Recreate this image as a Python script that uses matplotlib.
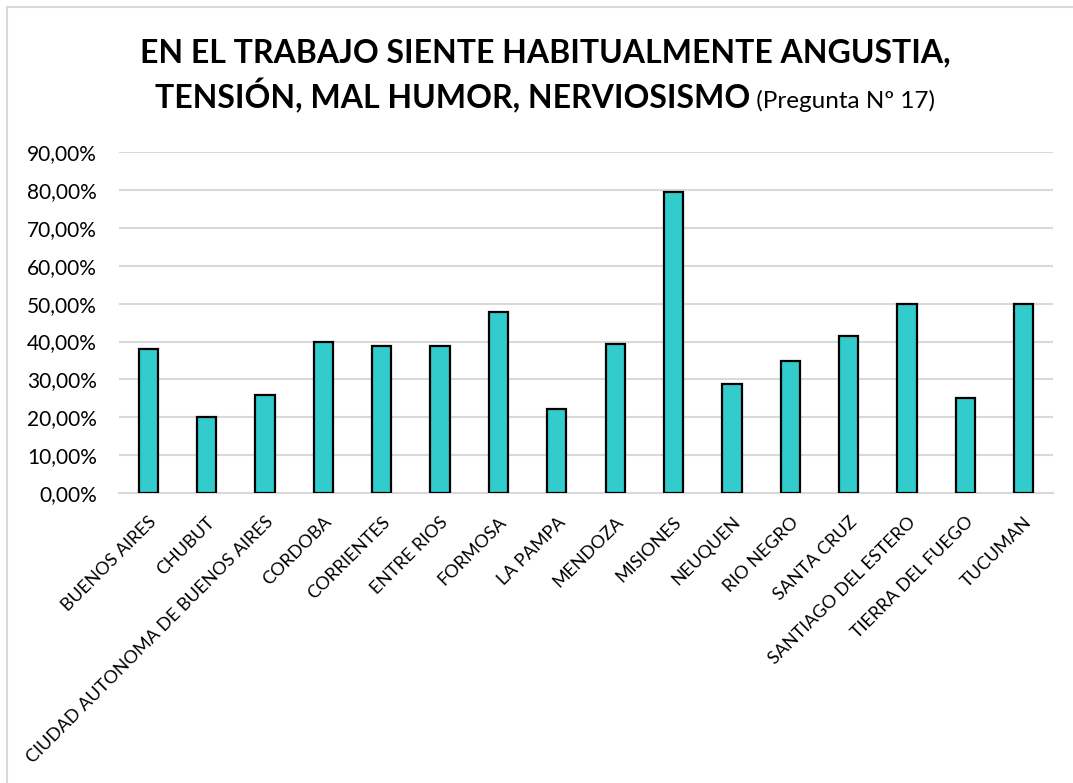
import matplotlib
matplotlib.use("Agg")
import matplotlib.pyplot as plt
from matplotlib.ticker import FuncFormatter, MultipleLocator
from matplotlib.patches import Rectangle

categories = ["BUENOS AIRES", "CHUBUT", "CIUDAD AUTONOMA DE BUENOS AIRES", "CORDOBA",
              "CORRIENTES", "ENTRE RIOS", "FORMOSA", "LA PAMPA", "MENDOZA", "MISIONES",
              "NEUQUEN", "RIO NEGRO", "SANTA CRUZ", "SANTIAGO DEL ESTERO",
              "TIERRA DEL FUEGO", "TUCUMAN"]
values = [0.381, 0.202, 0.259, 0.398, 0.387, 0.389, 0.477, 0.221, 0.393, 0.795,
          0.289, 0.349, 0.415, 0.500, 0.251, 0.500]
title_line1 = "EN EL TRABAJO SIENTE HABITUALMENTE ANGUSTIA,"
title_line2_bold = "TENSIÓN, MAL HUMOR, NERVIOSISMO"
title_line2_reg = " (Pregunta Nº 17)"

FONT = ["Lato", "DejaVu Sans"]
plt.rcParams["font.family"] = FONT

W, H = 1073, 783
fig = plt.figure(figsize=(W / 100, H / 100), dpi=100)
fig.patch.set_facecolor("white")

# outer chart border
fig.add_artist(Rectangle((7 / W, -0.05), 1.2, 1 - 7 / H + 0.05, transform=fig.transFigure,
                         fill=False, edgecolor="#d9d9d9", linewidth=1.5))

ax = fig.add_axes([119 / W, 1 - 493 / H, (1053 - 119) / W, (493 - 152.3) / H])
x = list(range(len(categories)))
ax.bar(x, values, width=0.33, color="#33CCCC", edgecolor="black", linewidth=1.6, zorder=3)
ax.set_xlim(-0.5, len(categories) - 0.5)
ax.set_ylim(0, 0.9)
ax.yaxis.set_major_locator(MultipleLocator(0.1))
ax.yaxis.set_major_formatter(FuncFormatter(lambda v, p: f"{v * 100:.2f}%".replace(".", ",")))
ax.grid(axis="y", color="#d9d9d9", linewidth=1.5, zorder=0)
for s in ["top", "right", "left"]:
    ax.spines[s].set_visible(False)
ax.spines["bottom"].set_color("#d9d9d9")
ax.spines["bottom"].set_linewidth(1.5)
ax.tick_params(axis="both", length=0, colors="black")
ax.tick_params(axis="y", pad=16, labelsize=15)
ax.set_xticks(x)
ax.set_xticklabels(categories, rotation=45, ha="right", rotation_mode="anchor", fontsize=13)
ax.tick_params(axis="x", pad=15)

# title
fig.text(545 / W, 1 - 62 / H, title_line1, ha="center", va="baseline",
         fontsize=23, fontweight="bold", family=FONT)
t_b = fig.text(0, 1 - 108 / H, title_line2_bold, ha="left", va="baseline",
               fontsize=23, fontweight="bold", family=FONT)
t_r = fig.text(0, 1 - 108 / H, title_line2_reg, ha="left", va="baseline",
               fontsize=17.5, family=FONT)
fig.canvas.draw()
r = fig.canvas.get_renderer()
wb = t_b.get_window_extent(r).width
wr = t_r.get_window_extent(r).width
start = 545 - (wb + wr) / 2
t_b.set_x(start / W)
t_r.set_x((start + wb) / W)

fig.savefig("out.png", dpi=100, facecolor="white")
